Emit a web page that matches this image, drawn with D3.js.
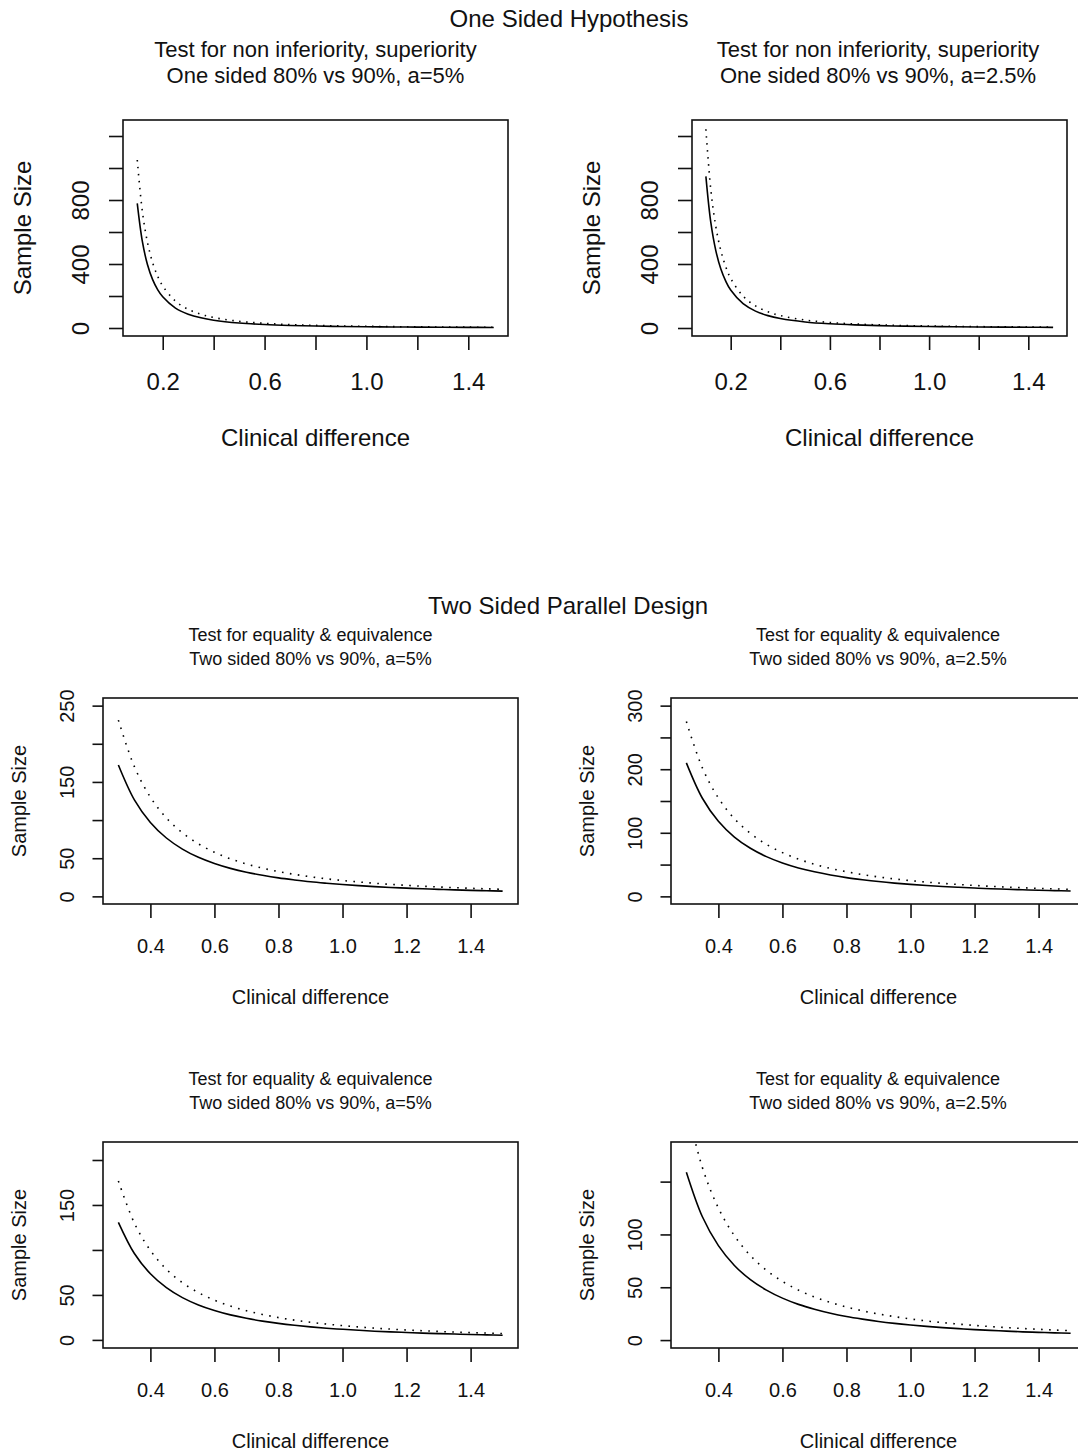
<!DOCTYPE html>
<html>
<head>
<meta charset="utf-8">
<script src="https://cdn.jsdelivr.net/npm/d3@7"></script>
<style>
  body { margin: 0; background: #fff; }
  text { font-family: "Liberation Sans", Arial, Helvetica, sans-serif; fill: #111; }
</style>
</head>
<body>
<div id="chart"></div>
<script>
// clinical difference grids
const deltaOne = [0.1, 0.12, 0.14, 0.16, 0.18, 0.2, 0.25, 0.3, 0.35, 0.4, 0.5, 0.6, 0.7, 0.8, 0.9, 1.0, 1.1, 1.2, 1.3, 1.4, 1.5];
const deltaTwo = [0.3, 0.35, 0.4, 0.45, 0.5, 0.55, 0.6, 0.65, 0.7, 0.75, 0.8, 0.85, 0.9, 0.95, 1.0,
                  1.05, 1.1, 1.15, 1.2, 1.25, 1.3, 1.35, 1.4, 1.45, 1.5];

// one sided, a=5%
const oneA5p80 = [779, 541, 397, 304, 240, 195, 124.6, 86.6, 63.6, 48.7, 31.2, 21.6, 15.9, 12.2, 9.6, 7.8, 6.4, 5.4, 4.6, 4, 3.5];
const oneA5p90 = [1050, 729, 536, 410, 324, 263, 168, 116.7, 85.7, 65.6, 42, 29.2, 21.4, 16.4, 13, 10.5, 8.7, 7.3, 6.2, 5.4, 4.7];
// one sided, a=2.5%
const oneA25p80 = [948, 658, 484, 370, 293, 237, 151.7, 105.3, 77.4, 59.3, 37.9, 26.3, 19.3, 14.8, 11.7, 9.5, 7.8, 6.6, 5.6, 4.8, 4.2];
const oneA25p90 = [1242, 862, 634, 485, 383, 310, 198.7, 138, 101.4, 77.6, 49.7, 34.5, 25.3, 19.4, 15.3, 12.4, 10.3, 8.6, 7.3, 6.3, 5.5];

// two sided, first row
const twoA5p80 = [172.2, 126.5, 96.9, 76.5, 62, 51.2, 43.1, 36.7, 31.6, 27.6, 24.2, 21.5, 19.1, 17.2, 15.5,
                  14.1, 12.8, 11.7, 10.8, 9.9, 9.2, 8.5, 7.9, 7.4, 6.9];
const twoA5p90 = [231, 170, 130, 102.7, 83.2, 68.8, 57.8, 49.2, 42.4, 37, 32.5, 28.8, 25.7, 23, 20.8,
                  18.9, 17.2, 15.7, 14.4, 13.3, 12.3, 11.4, 10.6, 9.9, 9.2];
const twoA25p80 = [210, 154.3, 118.1, 93.3, 75.6, 62.5, 52.5, 44.7, 38.6, 33.6, 29.5, 26.2, 23.3, 20.9, 18.9,
                   17.1, 15.6, 14.3, 13.1, 12.1, 11.2, 10.4, 9.6, 9, 8.4];
const twoA25p90 = [275, 202, 154.7, 122.2, 99, 81.8, 68.8, 58.6, 50.5, 44, 38.7, 34.3, 30.6, 27.4, 24.8,
                   22.4, 20.5, 18.7, 17.2, 15.8, 14.6, 13.6, 12.6, 11.8, 11];
// two sided, second row
const twoBA5p80 = [130.7, 96, 73.5, 58.1, 47, 38.9, 32.7, 27.8, 24, 20.9, 18.4, 16.3, 14.5, 13, 11.8,
                   10.7, 9.7, 8.9, 8.2, 7.5, 7, 6.5, 6, 5.6, 5.2];
const twoBA5p90 = [176.7, 129.8, 99.4, 78.5, 63.6, 52.6, 44.2, 37.6, 32.4, 28.3, 24.8, 22, 19.6, 17.6, 15.9,
                   14.4, 13.1, 12, 11, 10.2, 9.4, 8.7, 8.1, 7.6, 7.1];
const twoBA25p80 = [158.9, 116.7, 89.4, 70.6, 57.2, 47.3, 39.7, 33.8, 29.2, 25.4, 22.3, 19.8, 17.6, 15.8, 14.3,
                    13, 11.8, 10.8, 9.9, 9.2, 8.5, 7.8, 7.3, 6.8, 6.4];
const twoBA25p90 = [222.2, 163.3, 125, 98.8, 80, 66.1, 55.6, 47.3, 40.8, 35.6, 31.3, 27.7, 24.7, 22.2, 20,
                    18.1, 16.5, 15.1, 13.9, 12.8, 11.8, 11, 10.2, 9.5, 8.9];

// ticks
const xTicksOne = [0.2, 0.4, 0.6, 0.8, 1.0, 1.2, 1.4];
const xLabelsOne = [0.2, 0.6, 1.0, 1.4];
const xTicksTwo = [0.4, 0.6, 0.8, 1.0, 1.2, 1.4];
const yTicksOne = [0, 200, 400, 600, 800, 1000, 1200];
const yLabelsOne = [0, 400, 800];

// texts
const mainTitles = ["One Sided Hypothesis", "Two Sided Parallel Design"];
const subOneA5 = ["Test for non inferiority, superiority", "One sided 80% vs 90%, a=5%"];
const subOneA25 = ["Test for non inferiority, superiority", "One sided 80% vs 90%, a=2.5%"];
const subTwoA5 = ["Test for equality & equivalence", "Two sided 80% vs 90%, a=5%"];
const subTwoA25 = ["Test for equality & equivalence", "Two sided 80% vs 90%, a=2.5%"];
const xTitle = "Clinical difference";
const yTitle = "Sample Size";

const width = 1078, height = 1452;

const svg = d3.select("#chart").append("svg")
  .attr("width", width)
  .attr("height", height)
  .style("display", "block");
svg.append("rect").attr("width", width).attr("height", height).attr("fill", "#fff");
const defs = svg.append("defs");

// layout of the two blocks (top: large text, bottom: smaller text)
const big = { tick: 24, lab: 24, sub: 22, xLen: 14, yLen: 14, xOff: 54, yOff: 34, xTitOff: 110, yTitOff: 92, subGap: 26, dash: "1.5,5.5" };
const small = { tick: 20, lab: 20, sub: 18, xLen: 14, yLen: 10.5, xOff: 49, yOff: 29, xTitOff: 100, yTitOff: 77, subGap: 24, dash: "1.6,6.4" };

const panels = [
  { st: big, box: [123, 508, 120, 336], xd: [0.044, 1.556], yd: [-50, 1300], delta: deltaOne, solid: oneA5p80, dotted: oneA5p90,
    xt: xTicksOne, xl: xLabelsOne, yt: yTicksOne, yl: yLabelsOne, sub: subOneA5, subY: 57 },
  { st: big, box: [692, 1067, 120, 336], xd: [0.044, 1.556], yd: [-50, 1300], delta: deltaOne, solid: oneA25p80, dotted: oneA25p90,
    xt: xTicksOne, xl: xLabelsOne, yt: yTicksOne, yl: yLabelsOne, sub: subOneA25, subY: 57 },
  { st: small, box: [103, 518, 698, 904], xd: [0.252, 1.548], yd: [-10, 260], delta: deltaTwo, solid: twoA5p80, dotted: twoA5p90,
    xt: xTicksTwo, xl: xTicksTwo, yt: [0, 50, 100, 150, 200, 250], yl: [0, 50, 150, 250], sub: subTwoA5, subY: 641 },
  { st: small, box: [671, 1086, 698, 904], xd: [0.252, 1.548], yd: [-12, 312], delta: deltaTwo, solid: twoA25p80, dotted: twoA25p90,
    xt: xTicksTwo, xl: xTicksTwo, yt: [0, 50, 100, 150, 200, 250, 300], yl: [0, 100, 200, 300], sub: subTwoA25, subY: 641 },
  { st: small, box: [103, 518, 1142, 1348], xd: [0.252, 1.548], yd: [-9, 220], delta: deltaTwo, solid: twoBA5p80, dotted: twoBA5p90,
    xt: xTicksTwo, xl: xTicksTwo, yt: [0, 50, 100, 150, 200], yl: [0, 50, 150], sub: subTwoA5, subY: 1085 },
  { st: small, box: [671, 1086, 1142, 1348], xd: [0.252, 1.548], yd: [-7.5, 187.5], delta: deltaTwo, solid: twoBA25p80, dotted: twoBA25p90,
    xt: xTicksTwo, xl: xTicksTwo, yt: [0, 50, 100, 150], yl: [0, 50, 100], sub: subTwoA25, subY: 1085 }
];

const fmtX = d3.format(".1f");

panels.forEach(function(p, i) {
  const st = p.st;
  const [x0, x1, y0, y1] = p.box;
  const x = d3.scaleLinear().domain(p.xd).range([x0, x1]);
  const y = d3.scaleLinear().domain(p.yd).range([y1, y0]);
  const g = svg.append("g");

  defs.append("clipPath").attr("id", "clip" + i)
    .append("rect").attr("x", x0).attr("y", y0).attr("width", x1 - x0).attr("height", y1 - y0);

  const line = d3.line()
    .x((d, j) => x(p.delta[j]))
    .y(d => y(d))
    .curve(d3.curveCatmullRom.alpha(0.5));

  const curves = g.append("g").attr("clip-path", "url(#clip" + i + ")");
  curves.append("path").datum(p.solid)
    .attr("d", line).attr("fill", "none").attr("stroke", "#000").attr("stroke-width", 1.6);
  curves.append("path").datum(p.dotted)
    .attr("d", line).attr("fill", "none").attr("stroke", "#000").attr("stroke-width", 1.6)
    .attr("stroke-dasharray", st.dash);

  g.append("rect")
    .attr("x", x0).attr("y", y0).attr("width", x1 - x0).attr("height", y1 - y0)
    .attr("fill", "none").attr("stroke", "#111").attr("stroke-width", 1.6);

  // x axis
  const xa = g.append("g").attr("transform", `translate(0,${y1})`)
    .call(d3.axisBottom(x).tickValues(p.xt).tickSize(st.xLen)
      .tickFormat(d => p.xl.includes(d) ? fmtX(d) : ""));
  xa.select(".domain").remove();
  xa.selectAll(".tick line").attr("stroke", "#111").attr("stroke-width", 1.6);
  xa.selectAll(".tick text")
    .attr("y", st.xOff).attr("dy", null)
    .attr("font-size", st.tick).attr("font-family", null).attr("fill", "#111");

  // y axis
  const ya = g.append("g").attr("transform", `translate(${x0},0)`)
    .call(d3.axisLeft(y).tickValues(p.yt).tickSize(st.yLen)
      .tickFormat(d => p.yl.includes(d) ? d : ""));
  ya.select(".domain").remove();
  ya.selectAll(".tick line").attr("stroke", "#111").attr("stroke-width", 1.6);
  ya.selectAll(".tick text")
    .attr("transform", "rotate(-90)")
    .attr("x", 0).attr("y", -st.yOff).attr("dy", null)
    .attr("text-anchor", "middle")
    .attr("font-size", st.tick).attr("font-family", null).attr("fill", "#111");

  // axis titles
  g.append("text")
    .attr("x", (x0 + x1) / 2).attr("y", y1 + st.xTitOff)
    .attr("text-anchor", "middle").attr("font-size", st.lab)
    .text(xTitle);
  g.append("text")
    .attr("transform", `translate(${x0 - st.yTitOff},${(y0 + y1) / 2}) rotate(-90)`)
    .attr("text-anchor", "middle").attr("font-size", st.lab)
    .text(yTitle);

  // panel subtitle, two lines
  p.sub.forEach(function(s, k) {
    g.append("text")
      .attr("x", Math.min((x0 + x1) / 2, 878)).attr("y", p.subY + k * st.subGap)
      .attr("text-anchor", "middle").attr("font-size", st.sub)
      .text(s);
  });
});

// block titles
svg.append("text").attr("x", 569).attr("y", 27)
  .attr("text-anchor", "middle").attr("font-size", 24).text(mainTitles[0]);
svg.append("text").attr("x", 568).attr("y", 614)
  .attr("text-anchor", "middle").attr("font-size", 24).text(mainTitles[1]);
</script>
</body>
</html>
